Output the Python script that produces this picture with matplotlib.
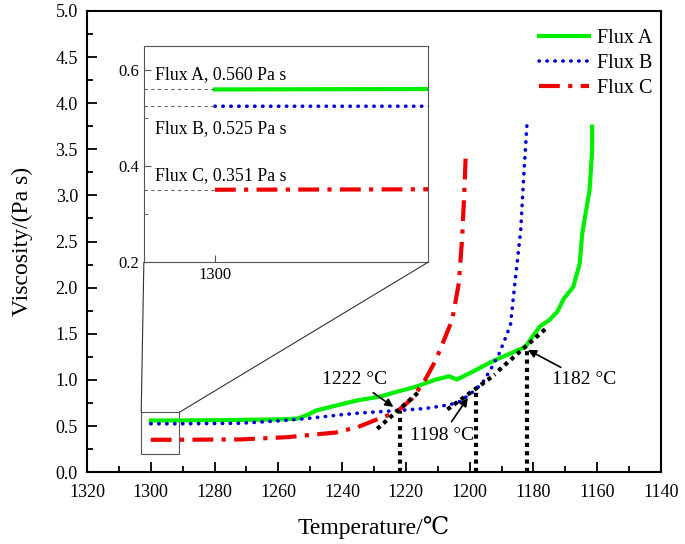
import matplotlib
matplotlib.use("Agg")
import matplotlib.pyplot as plt
from matplotlib.patches import Rectangle, ConnectionPatch
from matplotlib.ticker import MultipleLocator, FixedLocator, FormatStrFormatter

plt.rcParams["font.family"] = ["Liberation Serif", "DejaVu Serif"]

# viscosity curves (temperature in degC, viscosity in Pa s)
A_T = [1300, 1290, 1280, 1270, 1260, 1254, 1251, 1248, 1241, 1235, 1228, 1223, 1217, 1211,
       1206.5, 1204, 1199, 1193, 1187, 1182.5, 1180.3, 1178, 1175, 1172.5, 1170.5, 1167.5,
       1165.5, 1164.7, 1162.4, 1161.6, 1161.6]
A_V = [0.560, 0.561, 0.563, 0.568, 0.572, 0.58, 0.62, 0.67, 0.73, 0.78, 0.82, 0.87, 0.925, 1.0,
       1.04, 1.005, 1.09, 1.2, 1.29, 1.36, 1.47, 1.58, 1.65, 1.74, 1.88, 2.01,
       2.26, 2.59, 3.06, 3.49, 3.745]

B_T = [1300, 1290, 1272, 1260, 1251.5, 1241, 1235, 1222, 1214, 1206.5, 1203.4, 1199.7, 1196.1,
       1193, 1190.7, 1188.6, 1187.2, 1185.6, 1184, 1183, 1182]
B_V = [0.525, 0.525, 0.53, 0.556, 0.58, 0.62, 0.64, 0.67, 0.69, 0.73, 0.76, 0.85, 0.96,
       1.14, 1.29, 1.47, 1.6, 2.12, 2.62, 3.24, 3.79]

C_T = [1300, 1290, 1272, 1257, 1242, 1235, 1228.5, 1223, 1218, 1214, 1210.7, 1207.6, 1205.5,
       1203.4, 1202.4, 1201.8, 1201.2]
C_V = [0.351, 0.352, 0.355, 0.38, 0.43, 0.49, 0.58, 0.65, 0.80, 1.0, 1.21, 1.47, 1.65,
       2.05, 2.52, 2.95, 3.46]

# onset temperatures and the tangent construction
ONSET_T = [1222, 1198, 1182]
ONSET_V = [0.66, 0.87, 1.35]
TANGENTS = [((1229, 1215.3), (0.47, 0.89)),
            ((1207, 1192), (0.68, 1.06)),
            ((1191, 1176), (1.10, 1.56))]

# plateau values shown in the inset
PLATEAU = [0.560, 0.525, 0.351]
PLATEAU_LABELS = ["Flux A, 0.560 Pa s", "Flux B, 0.525 Pa s", "Flux C, 0.351 Pa s"]
PLATEAU_LABEL_Y = [0.59, 0.478, 0.38]

GREEN = "#00ee00"
BLUE = "#0000dd"
RED = "#ee0000"

fig = plt.figure(figsize=(6.85, 5.44), dpi=100)
ax = fig.add_axes((0.127, 0.132, 0.838, 0.848))

style_a = dict(color=GREEN, lw=3, ls="-")
style_b = dict(color=BLUE, lw=2.6, ls=(0, (0.1, 2.1)), dash_capstyle="round")
style_c = dict(color=RED, lw=3, ls=(0, (5, 2, 1, 2)))

ax.plot(A_T, A_V, label="Flux A", **style_a)
ax.plot(B_T, B_V, label="Flux B", **style_b)
ax.plot(C_T, C_V, label="Flux C", **style_c)

black_dot = dict(color="black", lw=3, ls=(0, (1, 1)))
for (tx, ty) in TANGENTS:
    ax.plot(tx, ty, **black_dot)
for t, v in zip(ONSET_T, ONSET_V):
    ax.plot([t, t], [0, v], **black_dot)

ann = dict(fontsize=14, ha="center", va="center",
           arrowprops=dict(arrowstyle="-|>", color="black", lw=1.2, mutation_scale=12))
ax.annotate("1222 °C", xy=(1223.2, 0.69), xytext=(1236, 1.0), **ann)
ax.annotate("1198 °C", xy=(1200.1, 0.83), xytext=(1208.6, 0.40), **ann)
ax.annotate("1182 °C", xy=(1182.5, 1.34), xytext=(1164, 1.0), **ann)

ax.set_xlim(1320, 1140)
ax.set_ylim(0, 5)
ax.xaxis.set_major_locator(MultipleLocator(20))
ax.xaxis.set_minor_locator(MultipleLocator(10))
ax.yaxis.set_major_locator(MultipleLocator(0.5))
ax.yaxis.set_minor_locator(MultipleLocator(0.25))
ax.yaxis.set_major_formatter(FormatStrFormatter("%.1f"))
ax.tick_params(which="both", direction="in", labelsize=13, width=1.3)
ax.tick_params(which="major", length=7)
ax.tick_params(which="minor", length=4)
ax.tick_params(axis="x", pad=8.5)
ax.tick_params(axis="y", pad=6.5)
for s in ax.spines.values():
    s.set_linewidth(1.5)
ax.set_xlabel("Temperature/℃", fontsize=17, labelpad=11)
ax.set_ylabel("Viscosity/(Pa s)", fontsize=17, labelpad=16)

ax.legend(loc="upper right", frameon=False, fontsize=14.5, handlelength=2.5,
          handletextpad=0.4, labelspacing=0.3, borderaxespad=0,
          bbox_to_anchor=(1.0, 0.978))

# inset
X0, X1, Y0, Y1 = 1303, 1291, 0.2, 0.65
axin = fig.add_axes((0.210, 0.518, 0.415, 0.397))
axin.plot(A_T, A_V, **style_a)
axin.plot(B_T, B_V, **style_b)
axin.plot(C_T, C_V, **style_c)
for v, lab, ly in zip(PLATEAU, PLATEAU_LABELS, PLATEAU_LABEL_Y):
    axin.plot([X0, 1300], [v, v], color="#666666", lw=0.8, ls=(0, (3, 3)))
    axin.text(1302.55, ly, lab, fontsize=12.8, ha="left", va="center")
axin.set_xlim(X0, X1)
axin.set_ylim(Y0, Y1)
axin.xaxis.set_major_locator(FixedLocator([1300]))
axin.yaxis.set_major_locator(FixedLocator([0.2, 0.4, 0.6]))
axin.yaxis.set_minor_locator(FixedLocator([0.3, 0.5]))
axin.yaxis.set_major_formatter(FormatStrFormatter("%.1f"))
axin.tick_params(which="both", direction="in", labelsize=12, color="#555555")
axin.tick_params(which="major", length=5)
axin.tick_params(which="minor", length=3)
for s in axin.spines.values():
    s.set_linewidth(0.8)
    s.set_color("#555555")

ax.add_patch(Rectangle((X0, Y0), X1 - X0, Y1 - Y0, fill=False,
                       edgecolor="#555555", lw=0.8))
for (xa, ya), (xb, yb) in [((0, 0), (X0, Y1)), ((1, 0), (X1, Y1))]:
    con = ConnectionPatch(xyA=(xa, ya), coordsA=axin.transAxes,
                          xyB=(xb, yb), coordsB=ax.transData,
                          color="#333333", lw=0.8)
    fig.add_artist(con)

fig.savefig("out.png", dpi=100)
